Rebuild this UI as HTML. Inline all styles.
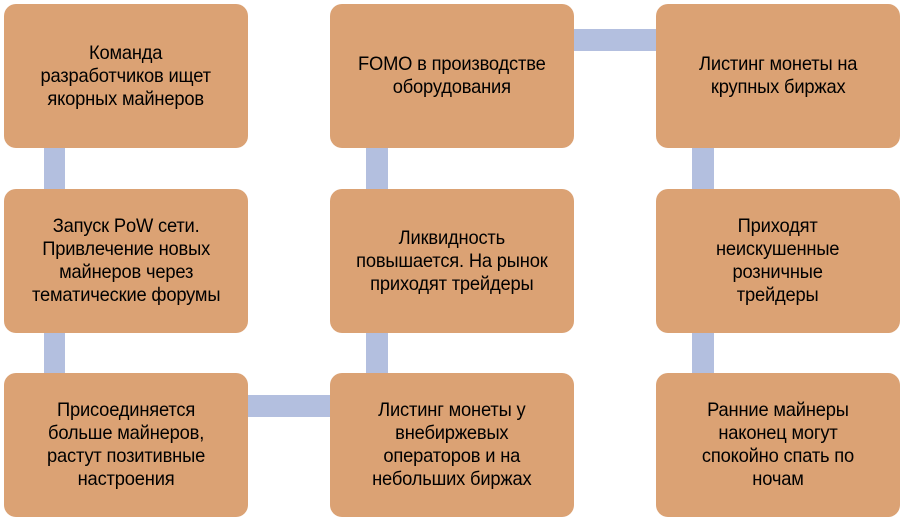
<!DOCTYPE html>
<html><head><meta charset="utf-8"><style>
body{margin:0;width:906px;height:518px;background:#fff;position:relative;overflow:hidden;font-family:"Liberation Sans",sans-serif;}
.b{position:absolute;width:244px;height:144px;background:#dba274;border-radius:12px;display:flex;align-items:center;justify-content:center;text-align:center;font-size:19.5px;line-height:23px;color:#000;box-sizing:border-box;white-space:nowrap;}
.b span{display:inline-block;transform:scaleX(0.94);letter-spacing:-0.2px}
.c{position:absolute;background:#b3bfdf;}
</style></head><body>
<div class="c" style="left:44px;top:148px;width:21px;height:41px"></div>
<div class="c" style="left:44px;top:333px;width:21px;height:40px"></div>
<div class="c" style="left:366px;top:148px;width:22px;height:41px"></div>
<div class="c" style="left:366px;top:333px;width:22px;height:40px"></div>
<div class="c" style="left:692px;top:148px;width:22px;height:41px"></div>
<div class="c" style="left:692px;top:333px;width:22px;height:40px"></div>
<div class="c" style="left:248px;top:395px;width:82px;height:22px"></div>
<div class="c" style="left:574px;top:29px;width:82px;height:22px"></div>
<div class="b" style="left:4px;top:4px"><span>Команда<br>разработчиков ищет<br>якорных майнеров</span></div>
<div class="b" style="left:4px;top:189px"><span>Запуск PoW сети.<br>Привлечение новых<br>майнеров через<br>тематические форумы</span></div>
<div class="b" style="left:4px;top:373px"><span>Присоединяется<br>больше майнеров,<br>растут позитивные<br>настроения</span></div>
<div class="b" style="left:330px;top:4px"><span>FOMO в производстве<br>оборудования</span></div>
<div class="b" style="left:330px;top:189px"><span>Ликвидность<br>повышается. На рынок<br>приходят трейдеры</span></div>
<div class="b" style="left:330px;top:373px"><span>Листинг монеты у<br>внебиржевых<br>операторов и на<br>небольших биржах</span></div>
<div class="b" style="left:656px;top:4px"><span>Листинг монеты на<br>крупных биржах</span></div>
<div class="b" style="left:656px;top:189px"><span>Приходят<br>неискушенные<br>розничные<br>трейдеры</span></div>
<div class="b" style="left:656px;top:373px"><span>Ранние майнеры<br>наконец могут<br>спокойно спать по<br>ночам</span></div>
</body></html>
